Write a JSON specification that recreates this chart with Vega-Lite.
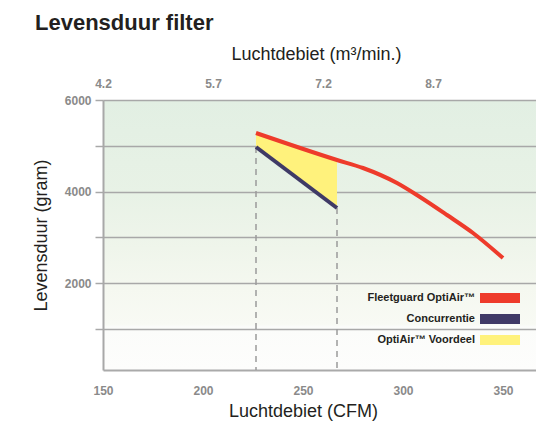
{
  "$schema": "https://vega.github.io/schema/vega-lite/v6.json",
  "width": 433,
  "height": 270,
  "autosize": "none",
  "padding": {"left": 103, "top": 100, "right": 0, "bottom": 53},
  "background": "#ffffff",
  "title": {
    "text": "Levensduur filter",
    "anchor": "start",
    "frame": "group",
    "font": "Liberation Sans",
    "fontSize": 22,
    "fontWeight": "bold",
    "color": "#231f20",
    "dx": -68,
    "dy": 0,
    "offset": 10
  },
  "config": {
    "font": "Liberation Sans",
    "view": {
      "stroke": null,
      "fill": {
        "gradient": "linear",
        "x1": 0, "y1": 0, "x2": 0, "y2": 1,
        "stops": [
          {"offset": 0, "color": "#e2efe3"},
          {"offset": 0.35, "color": "#e8f2e6"},
          {"offset": 0.55, "color": "#eff5eb"},
          {"offset": 0.7, "color": "#f5f8f0"},
          {"offset": 0.83, "color": "#f8faf4"},
          {"offset": 0.84, "color": "#fbfcfa"},
          {"offset": 1, "color": "#fdfdfc"}
        ]
      }
    }
  },
  "datasets": {
    "curves": [
      {"cfm": 226.5, "gram": 5279, "series": "Fleetguard OptiAir™"},
      {"cfm": 267, "gram": 4689, "series": "Fleetguard OptiAir™"},
      {"cfm": 280, "gram": 4514, "series": "Fleetguard OptiAir™"},
      {"cfm": 297, "gram": 4186, "series": "Fleetguard OptiAir™"},
      {"cfm": 308.5, "gram": 3880, "series": "Fleetguard OptiAir™"},
      {"cfm": 322, "gram": 3487, "series": "Fleetguard OptiAir™"},
      {"cfm": 335, "gram": 3094, "series": "Fleetguard OptiAir™"},
      {"cfm": 350, "gram": 2547, "series": "Fleetguard OptiAir™"},
      {"cfm": 226.5, "gram": 4973, "series": "Concurrentie"},
      {"cfm": 267, "gram": 3640, "series": "Concurrentie"}
    ],
    "voordeel": [
      {"cfm": 226.5, "hi": 5279, "lo": 4973, "series": "OptiAir™ Voordeel"},
      {"cfm": 267, "hi": 4689, "lo": 3640, "series": "OptiAir™ Voordeel"}
    ],
    "markers": [
      {"cfm": 226.5, "gram": 4973},
      {"cfm": 267, "gram": 3640}
    ],
    "m3": [
      {"m3": 4.2},
      {"m3": 5.7},
      {"m3": 7.2},
      {"m3": 8.7}
    ]
  },
  "layer": [
    {
      "encoding": {
        "x": {
          "field": "cfm",
          "type": "quantitative",
          "scale": {"domain": [150, 366.5], "nice": false, "zero": false},
          "axis": {
            "title": "Luchtdebiet (CFM)",
            "orient": "bottom",
            "values": [150, 200, 250, 300, 350],
            "labelFlush": false,
            "grid": false,
            "ticks": false,
            "domainColor": "#aaaaaa",
            "domainWidth": 2,
            "labelPadding": 15,
            "labelFontSize": 12,
            "labelFontWeight": "bold",
            "labelColor": "#8a8a8a",
            "titleFontSize": 18,
            "titleFontWeight": "normal",
            "titleColor": "#231f20",
            "titlePadding": 6,
            "titleX": 200
          }
        }
      },
      "layer": [
        {
          "data": {"name": "voordeel"},
          "mark": {"type": "area", "opacity": 1},
          "encoding": {
            "y": {
              "field": "hi",
              "type": "quantitative",
              "scale": {"domain": [100, 6000], "nice": false, "zero": false},
              "axis": {
                "title": "Levensduur (gram)",
                "values": [1000, 2000, 3000, 4000, 5000, 6000],
                "labelExpr": "datum.value % 2000 === 0 ? datum.value : ''",
                "labelFlush": false,
                "grid": true,
                "gridColor": "#a8a8a8",
                "gridWidth": 1.5,
                "tickColor": "#a8a8a8",
                "tickSize": 8,
                "tickWidth": 1.5,
                "domainColor": "#a8a8a8",
                "domainWidth": 2,
                "labelFontSize": 12,
                "labelFontWeight": "bold",
                "labelColor": "#8a8a8a",
                "labelPadding": 4,
                "titleFontSize": 18,
                "titleFontWeight": "normal",
                "titleColor": "#231f20",
                "titlePadding": 14
              }
            },
            "y2": {"field": "lo"},
            "color": {"field": "series", "type": "nominal"}
          }
        },
        {
          "data": {"name": "markers"},
          "mark": {"type": "rule", "color": "#9a9a9a", "strokeWidth": 1.5, "strokeDash": [6, 5]},
          "encoding": {
            "y": {"field": "gram", "type": "quantitative"},
            "y2": {"datum": 100}
          }
        },
        {
          "data": {"name": "curves"},
          "transform": [{"filter": "datum.series === 'Concurrentie'"}],
          "mark": {"type": "line", "strokeWidth": 4},
          "encoding": {
            "y": {"field": "gram", "type": "quantitative"},
            "color": {"field": "series", "type": "nominal"}
          }
        },
        {
          "data": {"name": "curves"},
          "transform": [{"filter": "datum.series === 'Fleetguard OptiAir™'"}],
          "mark": {"type": "line", "strokeWidth": 4, "interpolate": "monotone"},
          "encoding": {
            "y": {"field": "gram", "type": "quantitative"},
            "color": {
              "field": "series",
              "type": "nominal",
              "scale": {
                "domain": ["Fleetguard OptiAir™", "Concurrentie", "OptiAir™ Voordeel"],
                "range": ["#ee3b2b", "#3f3a66", "#fff27c"]
              },
              "legend": {
                "orient": "none",
                "legendX": 387,
                "legendY": 188,
                "title": null,
                "padding": 0,
                "symbolType": "M-2,-0.5H2V0.5H-2Z",
                "symbolSize": 400,
                "symbolStrokeWidth": 0,
                "symbolOpacity": 1,
                "labelAlign": "right",
                "labelOffset": -35,
                "labelFontSize": 11,
                "labelFontWeight": "bold",
                "labelColor": "#231f20",
                "rowPadding": 6,
                "labelLimit": 300,
                "encode": {
                  "symbols": {
                    "update": {
                      "fill": {"scale": "color", "field": "value"},
                      "stroke": {"value": null},
                      "opacity": {"value": 1}
                    }
                  }
                }
              }
            }
          }
        }
      ]
    },
    {
      "data": {"name": "m3"},
      "mark": {"type": "point", "opacity": 0},
      "encoding": {
        "x": {
          "field": "m3",
          "type": "quantitative",
          "scale": {"domain": [4.2, 10.105], "nice": false, "zero": false},
          "axis": {
            "orient": "top",
            "title": "Luchtdebiet (m³/min.)",
            "values": [4.2, 5.7, 7.2, 8.7],
            "format": ".1f",
            "labelFlush": false,
            "grid": false,
            "ticks": false,
            "domain": false,
            "labelPadding": 10,
            "labelFontSize": 12,
            "labelFontWeight": "bold",
            "labelColor": "#8a8a8a",
            "titleFontSize": 18,
            "titleFontWeight": "normal",
            "titleColor": "#231f20",
            "titlePadding": 14,
            "titleX": 213
          }
        }
      }
    }
  ],
  "resolve": {"scale": {"x": "independent"}, "axis": {"x": "independent"}}
}
